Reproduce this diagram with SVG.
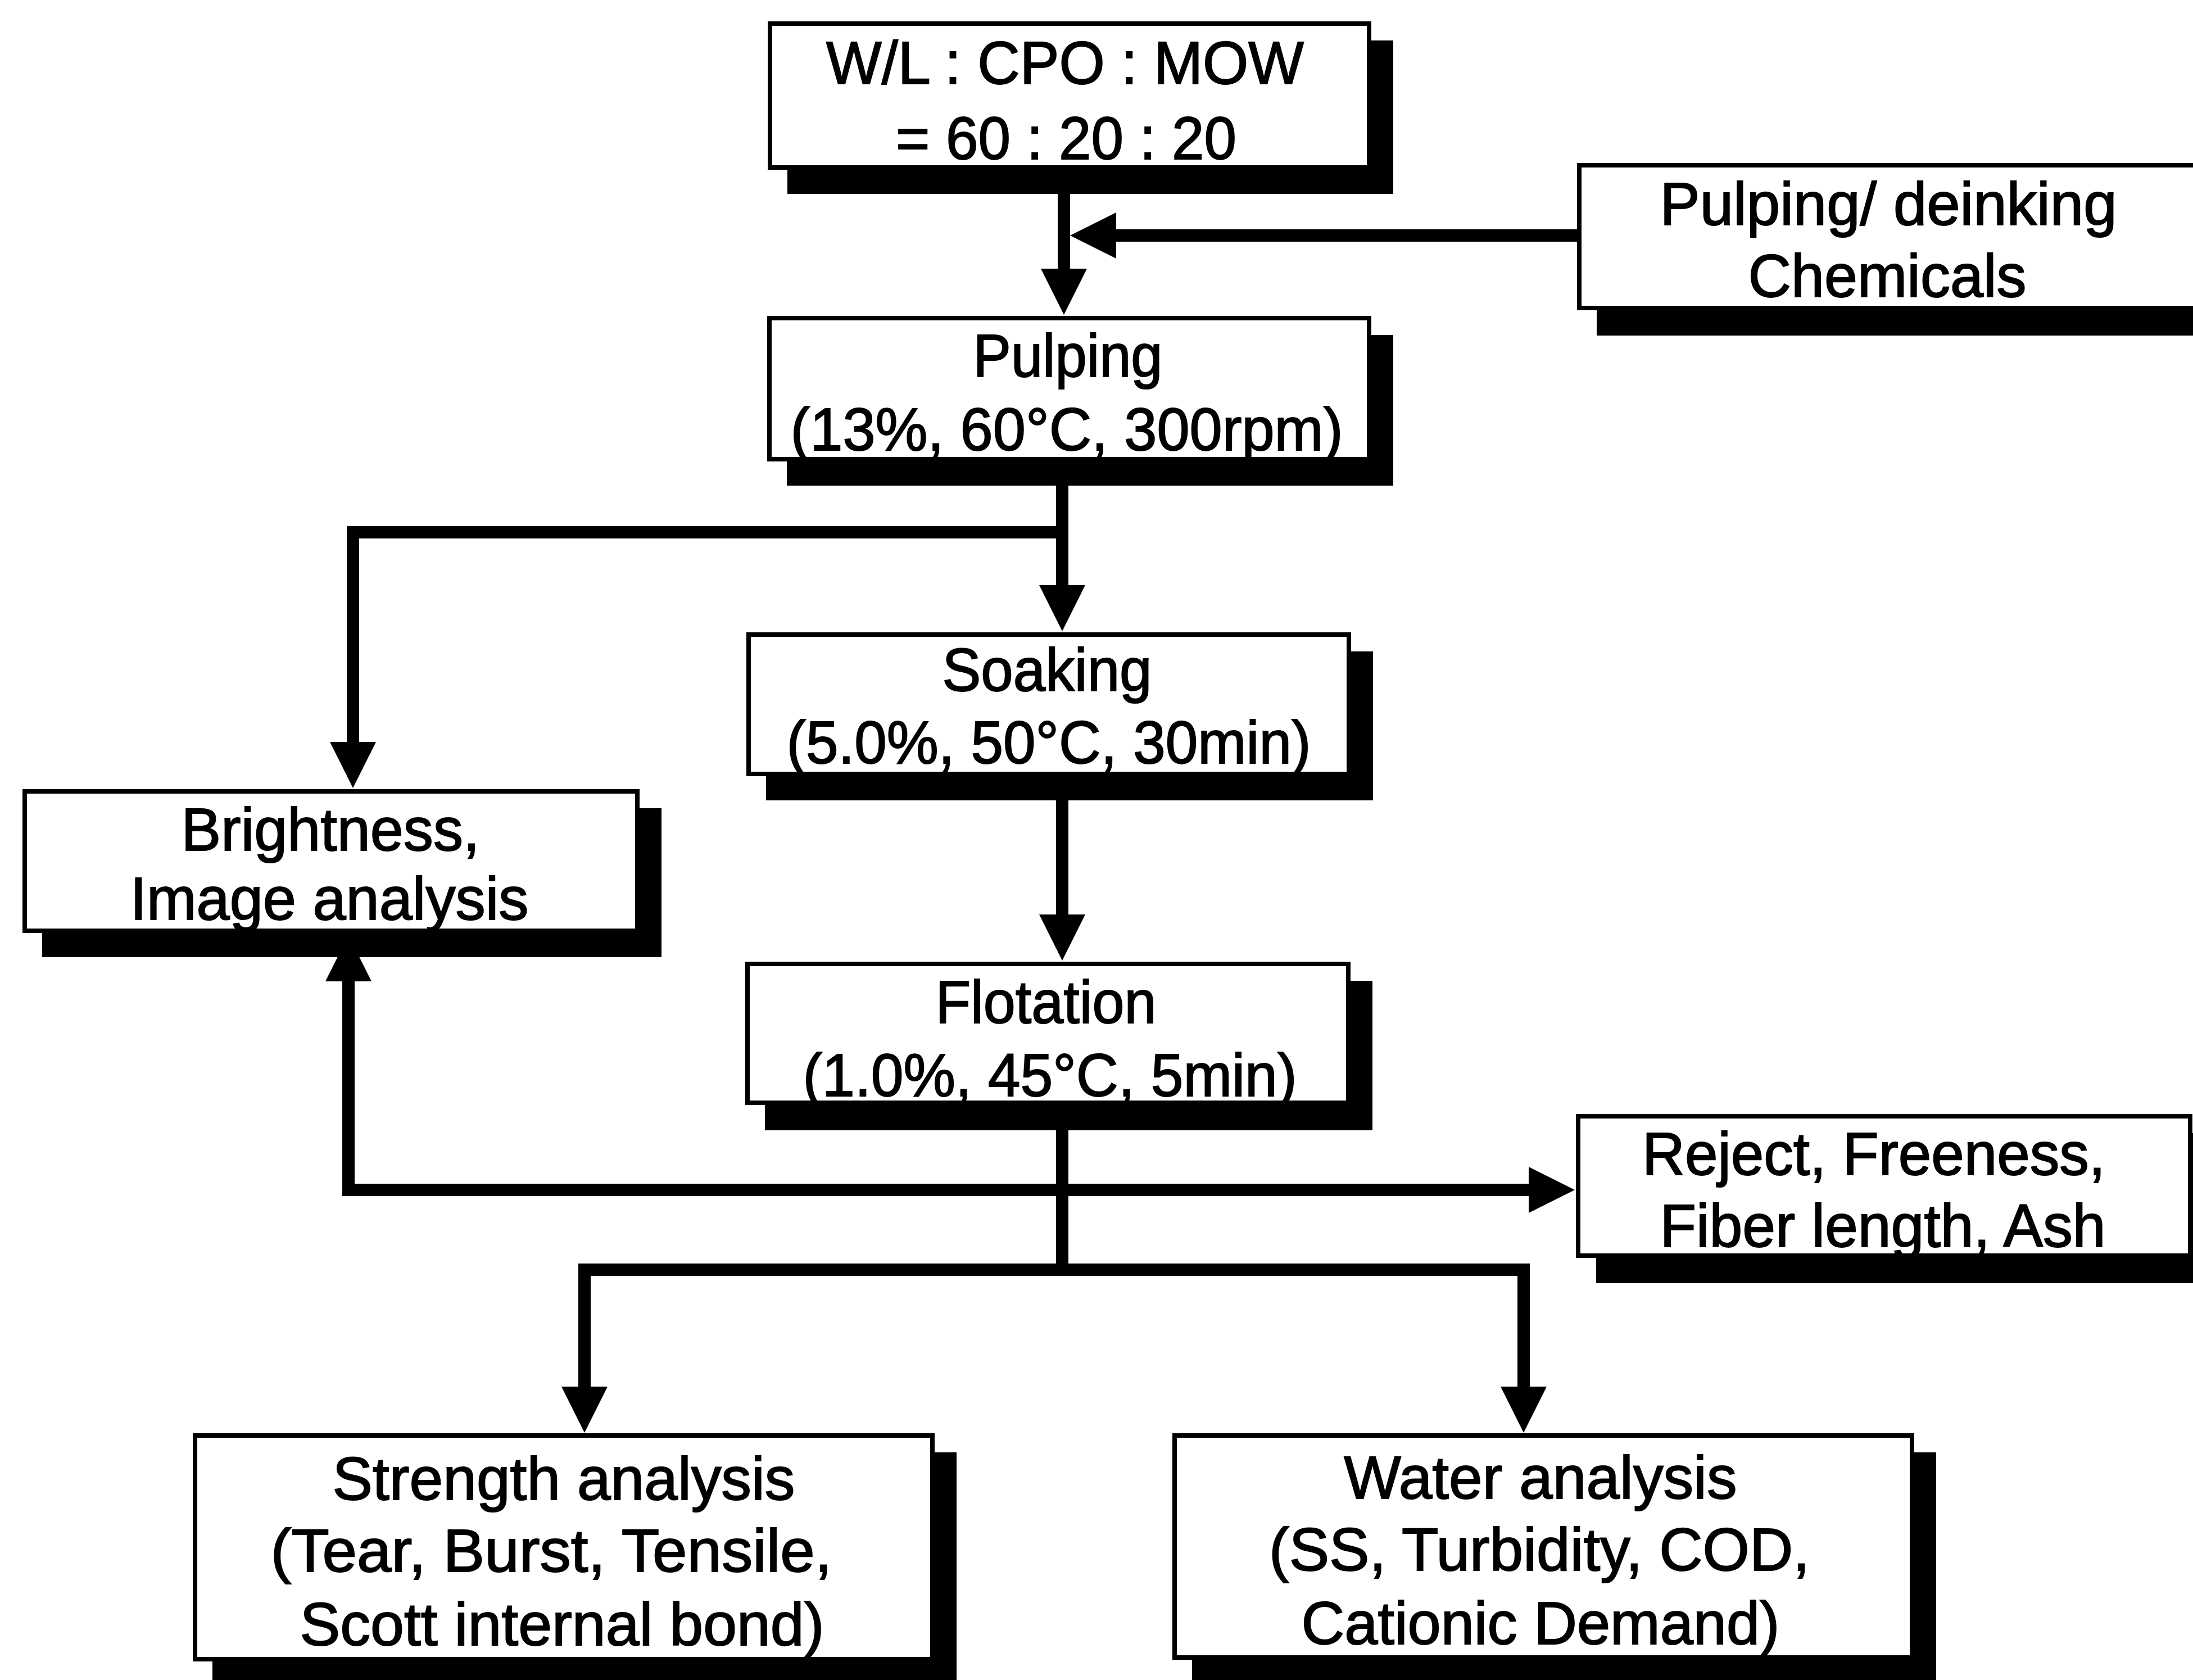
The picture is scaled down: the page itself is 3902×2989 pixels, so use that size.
<svg xmlns="http://www.w3.org/2000/svg" xmlns:xlink="http://www.w3.org/1999/xlink" width="3902" height="2989" viewBox="0 0 3902 2989">
<defs>
<style>
.bg{fill:#ffffff}
.box{fill:#ffffff;stroke:#000000;stroke-width:8}
.shadow{fill:#000000}
.line{fill:none;stroke:#000000;stroke-width:22;stroke-linejoin:miter;stroke-linecap:butt}
.ah{fill:#000000}
text{font-family:"Liberation Sans",Arial,Helvetica,sans-serif;font-size:108px;fill:#000000;stroke:#000000;stroke-width:2;text-anchor:middle}
</style>
<path id="ah" d="M0,0 L-41,-82 L41,-82 Z"/>
</defs>
<rect class="bg" x="0" y="0" width="3902" height="2989"/>

<g id="connectors">
<path class="line" d="M1893,300 V482"/>
<path class="line" d="M2810,419 H1968"/>
<path class="line" d="M1890,819 V1045"/>
<path class="line" d="M1890,947 H628 V1324"/>
<path class="line" d="M1890,1380 V1631"/>
<path class="line" d="M1890,1964 V2259"/>
<path class="line" d="M2724,2117 H620 V1742"/>
<path class="line" d="M1040,2472 V2259 H2711 V2472"/>
<use xlink:href="#ah" class="ah" transform="translate(1893,560)"/>
<use xlink:href="#ah" class="ah" transform="translate(1904,419) rotate(90)"/>
<use xlink:href="#ah" class="ah" transform="translate(1890,1123)"/>
<use xlink:href="#ah" class="ah" transform="translate(628,1402)"/>
<use xlink:href="#ah" class="ah" transform="translate(1890,1709)"/>
<use xlink:href="#ah" class="ah" transform="translate(620,1664) rotate(180)"/>
<use xlink:href="#ah" class="ah" transform="translate(2802,2117) rotate(-90)"/>
<use xlink:href="#ah" class="ah" transform="translate(1040,2549)"/>
<use xlink:href="#ah" class="ah" transform="translate(2711,2549)"/>
</g>

<g id="node-ratio">
<rect class="shadow" x="1401" y="72" width="1078" height="273"/>
<rect class="box" x="1370" y="42" width="1066" height="256"/>
<text x="1895" y="149" textLength="850" lengthAdjust="spacingAndGlyphs">W/L : CPO : MOW</text>
<text x="1897" y="283" textLength="606" lengthAdjust="spacingAndGlyphs">= 60 : 20 : 20</text>
</g>

<g id="node-chemicals">
<rect class="shadow" x="2841" y="324" width="1128" height="273"/>
<rect class="box" x="2810" y="294" width="1116" height="254"/>
<text x="3360" y="400" textLength="813" lengthAdjust="spacingAndGlyphs">Pulping/ deinking</text>
<text x="3358" y="528" textLength="495" lengthAdjust="spacingAndGlyphs">Chemicals</text>
</g>

<g id="node-pulping">
<rect class="shadow" x="1400" y="596" width="1079" height="268"/>
<rect class="box" x="1369" y="566" width="1067" height="251"/>
<text x="1900" y="670" textLength="337" lengthAdjust="spacingAndGlyphs">Pulping</text>
<text x="1898" y="801" textLength="983" lengthAdjust="spacingAndGlyphs">(13%, 60°C, 300rpm)</text>
</g>

<g id="node-soaking">
<rect class="shadow" x="1363" y="1159" width="1080" height="265"/>
<rect class="box" x="1332" y="1129" width="1068" height="248"/>
<text x="1863" y="1229" textLength="373" lengthAdjust="spacingAndGlyphs">Soaking</text>
<text x="1866" y="1358" textLength="933" lengthAdjust="spacingAndGlyphs">(5.0%, 50°C, 30min)</text>
</g>

<g id="node-brightness">
<rect class="shadow" x="75" y="1438" width="1102" height="265"/>
<rect class="box" x="44" y="1408" width="1090" height="248"/>
<text x="588" y="1513" textLength="531" lengthAdjust="spacingAndGlyphs">Brightness,</text>
<text x="586" y="1636" textLength="709" lengthAdjust="spacingAndGlyphs">Image analysis</text>
</g>

<g id="node-flotation">
<rect class="shadow" x="1361" y="1745" width="1081" height="266"/>
<rect class="box" x="1330" y="1715" width="1069" height="247"/>
<text x="1861" y="1820" textLength="393" lengthAdjust="spacingAndGlyphs">Flotation</text>
<text x="1868" y="1950" textLength="879" lengthAdjust="spacingAndGlyphs">(1.0%, 45°C, 5min)</text>
</g>

<g id="node-reject">
<rect class="shadow" x="2840" y="2016" width="1101" height="267"/>
<rect class="box" x="2808" y="1986" width="1089" height="248"/>
<text x="3334" y="2090" textLength="824" lengthAdjust="spacingAndGlyphs">Reject, Freeness,</text>
<text x="3350" y="2218" textLength="793" lengthAdjust="spacingAndGlyphs">Fiber length, Ash</text>
</g>

<g id="node-strength">
<rect class="shadow" x="378" y="2584" width="1324" height="415"/>
<rect class="box" x="347" y="2554" width="1312" height="398"/>
<text x="1003" y="2668" textLength="823" lengthAdjust="spacingAndGlyphs">Strength analysis</text>
<text x="981" y="2796" textLength="999" lengthAdjust="spacingAndGlyphs">(Tear, Burst, Tensile,</text>
<text x="1000" y="2927" textLength="933" lengthAdjust="spacingAndGlyphs">Scott internal bond)</text>
</g>

<g id="node-water">
<rect class="shadow" x="2121" y="2584" width="1324" height="413"/>
<rect class="box" x="2090" y="2554" width="1312" height="395"/>
<text x="2741" y="2666" textLength="699" lengthAdjust="spacingAndGlyphs">Water analysis</text>
<text x="2739" y="2794" textLength="962" lengthAdjust="spacingAndGlyphs">(SS, Turbidity, COD,</text>
<text x="2741" y="2925" textLength="851" lengthAdjust="spacingAndGlyphs">Cationic Demand)</text>
</g>
</svg>
